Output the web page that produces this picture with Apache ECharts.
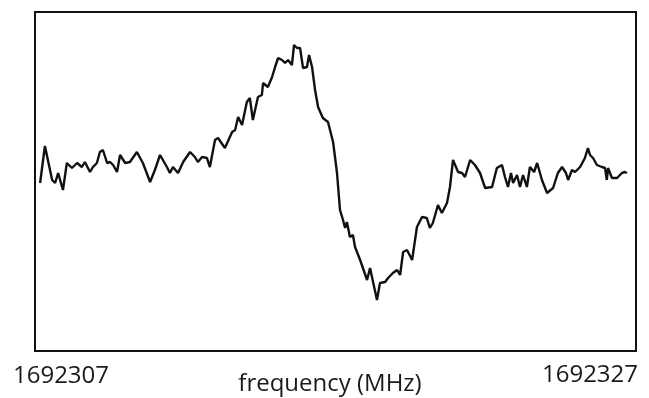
<!DOCTYPE html>
<html>
<head>
<meta charset="utf-8">
<script src="https://cdn.jsdelivr.net/npm/echarts@6/dist/echarts.min.js"></script>
<style>
	html, body { margin: 0; padding: 0; background: #fff; }
	#chart { width: 649px; height: 398px; }
</style>
</head>
<body>
<div id="chart"></div>
<script>
	// frequency (MHz) of each sample
	var freq = [
		1692307.17, 1692307.33, 1692307.57, 1692307.67, 1692307.77, 1692307.93, 1692308.06, 1692308.23,
		1692308.40, 1692308.56, 1692308.66, 1692308.83, 1692308.93, 1692309.06, 1692309.16, 1692309.26,
		1692309.40, 1692309.50, 1692309.60, 1692309.73, 1692309.83, 1692310.00, 1692310.16, 1692310.39,
		1692310.59, 1692310.83, 1692310.99, 1692311.16, 1692311.39, 1692311.49, 1692311.59, 1692311.76,
		1692311.93, 1692312.16, 1692312.32, 1692312.42, 1692312.56, 1692312.72, 1692312.82, 1692312.99,
		1692313.09, 1692313.32, 1692313.56, 1692313.66, 1692313.76, 1692313.89, 1692314.05, 1692314.15,
		1692314.25, 1692314.42, 1692314.55, 1692314.59, 1692314.75, 1692314.89, 1692314.99, 1692315.09,
		1692315.22, 1692315.32, 1692315.42, 1692315.55, 1692315.62, 1692315.72, 1692315.82, 1692315.92,
		1692316.05, 1692316.12, 1692316.22, 1692316.32, 1692316.42, 1692316.58, 1692316.75, 1692316.92,
		1692317.05, 1692317.15, 1692317.25, 1692317.32, 1692317.38, 1692317.48, 1692317.58, 1692317.65,
		1692317.82, 1692318.05, 1692318.15, 1692318.25, 1692318.38, 1692318.48, 1692318.65, 1692318.75,
		1692318.91, 1692319.05, 1692319.15, 1692319.25, 1692319.38, 1692319.55, 1692319.71, 1692319.88,
		1692320.04, 1692320.14, 1692320.24, 1692320.41, 1692320.54, 1692320.71, 1692320.81, 1692320.91,
		1692321.08, 1692321.21, 1692321.31, 1692321.38, 1692321.48, 1692321.64, 1692321.81, 1692321.98,
		1692322.21, 1692322.37, 1692322.54, 1692322.64, 1692322.74, 1692322.84, 1692322.91, 1692323.04,
		1692323.14, 1692323.24, 1692323.37, 1692323.47, 1692323.61, 1692323.71, 1692323.87, 1692324.04,
		1692324.24, 1692324.40, 1692324.54, 1692324.67, 1692324.74, 1692324.87, 1692324.97, 1692325.14,
		1692325.30, 1692325.40, 1692325.47, 1692325.57, 1692325.70, 1692325.87, 1692325.97, 1692326.03,
		1692326.07, 1692326.20, 1692326.37, 1692326.53, 1692326.63, 1692326.70
	];
	// signal (arbitrary units)
	var signal = [
		168, 205, 171, 168, 178, 161, 188, 183,
		188, 184, 189, 179, 184, 188, 199, 201,
		188, 189, 186, 179, 196, 188, 189, 199,
		188, 169, 181, 196, 184, 178, 184, 178,
		189, 199, 194, 189, 194, 193, 184, 211,
		213, 203, 219, 221, 234, 226, 249, 253,
		231, 254, 256, 268, 264, 274, 284, 293,
		291, 288, 291, 286, 306, 303, 303, 283,
		284, 296, 284, 261, 244, 233, 229, 209,
		178, 141, 131, 123, 129, 114, 116, 104,
		91, 71, 83, 69, 51, 68, 69, 73,
		78, 81, 76, 99, 101, 91, 124, 134,
		133, 123, 128, 146, 138, 148, 164, 191,
		179, 178, 174, 181, 191, 186, 178, 163,
		164, 183, 186, 174, 164, 178, 168, 176,
		164, 176, 164, 184, 179, 188, 171, 158,
		163, 178, 184, 178, 171, 181, 179, 184,
		193, 203, 196, 193, 186, 184, 183, 171,
		183, 173, 173, 178, 179, 178
	];
	var tickLabels = ['1692307', '1692327'];
	var axisTitle = 'frequency (MHz)';

	var fontColor = '#1a1a1a';
	var lineData = [];
	freq.forEach(function (f, i) {
		lineData.push([f, signal[i]]);
	});

	function label(text, x, y) {
		return {
			type: 'text',
			x: x,
			y: y,
			style: {
				text: text,
				fontFamily: 'Open Sans',
				fontSize: 24,
				fill: fontColor,
				textAlign: 'center',
				textVerticalAlign: 'middle'
			}
		};
	}

	var option = {
		animation: false,
		grid: {
			show: true,
			left: 35,
			right: 13,
			top: 12,
			bottom: 47,
			outerBoundsMode: 'none',
			containLabel: false,
			borderColor: '#111',
			borderWidth: 2,
			backgroundColor: '#fff'
		},
		xAxis: {
			type: 'value',
			min: 1692307,
			max: 1692327,
			axisLine: { show: false },
			axisTick: { show: false },
			axisLabel: { show: false },
			splitLine: { show: false }
		},
		yAxis: {
			type: 'value',
			min: 0,
			max: 339,
			show: false
		},
		graphic: [
			label(tickLabels[0], 61, 376),
			label(tickLabels[1], 590, 375),
			label(axisTitle, 330, 384)
		],
		series: [{
			type: 'line',
			data: lineData,
			showSymbol: false,
			smooth: false,
			lineStyle: {
				color: '#111',
				width: 2.4
			}
		}]
	};
	var myChart = echarts.init(document.getElementById('chart'));
	myChart.setOption(option);
</script>
</body>
</html>
